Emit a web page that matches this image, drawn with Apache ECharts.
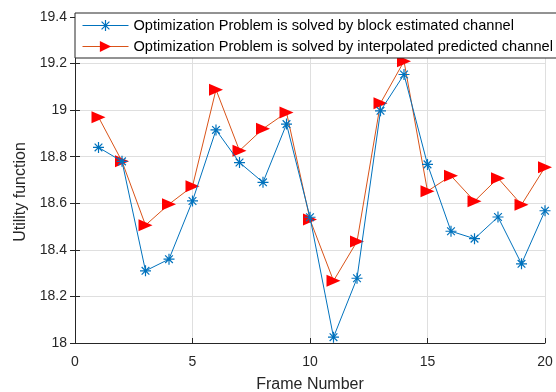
<!DOCTYPE html>
<html><head><meta charset="utf-8">
<script src="https://cdn.jsdelivr.net/npm/echarts@6/dist/echarts.min.js"></script>
<style>html,body{margin:0;padding:0;background:#fff}#c{width:556px;height:392px}</style>
</head><body><div id="c"></div>
<script>
const frames = [1,2,3,4,5,6,7,8,9,10,11,12,13,14,15,16,17,18,19,20];
const blockEstimated = [18.84,18.78,18.31,18.36,18.61,18.915,18.775,18.69,18.94,18.54,18.025,18.278,18.997,19.153,18.767,18.48,18.448,18.541,18.34,18.568];
const interpolatedPredicted = [18.97,18.78,18.506,18.596,18.673,19.088,18.826,18.92,18.99,18.53,18.267,18.436,19.03,19.21,18.652,18.718,18.609,18.708,18.594,18.755];
const seriesNames = ['Optimization Problem is solved by block estimated channel','Optimization Problem is solved by interpolated predicted channel'];
const xTicks = {min:0,max:20,interval:5};
const yTicks = {min:18,max:19.4,interval:0.2};

const asterisk = 'path://M0,-6L0,6M-6,0L6,0M-4.2,-4.2L4.2,4.2M-4.2,4.2L4.2,-4.2';
const txt = '#262626';
const font = 'Liberation Sans, Arial, sans-serif';
const chart = echarts.init(document.getElementById('c'));
const axisCommon = {
  axisLine:{show:true,lineStyle:{color:txt,width:1}},
  axisTick:{show:true,inside:true,length:5,lineStyle:{color:txt}},
  axisLabel:{color:txt,fontSize:14,fontFamily:font},
  splitLine:{show:true,lineStyle:{color:'#dfdfdf',width:1}}
};
chart.setOption({
  animation:false,
  grid:{left:75,right:11,top:17,bottom:49,outerBoundsMode:'none',containLabel:false},
  legend:{
    left:75, top:13, orient:'vertical',
    data:[
      {name:seriesNames[0],itemStyle:{color:'rgba(0,0,0,0)',borderColor:'#0072BD',borderWidth:1.2},lineStyle:{width:1,color:'#0072BD'}},
      {name:seriesNames[1],itemStyle:{color:'#ff0000',borderWidth:0},lineStyle:{width:1,color:'#D95319'}}
    ],
    backgroundColor:'#fff', borderColor:txt, borderWidth:1,
    padding:[5,6,4,7], itemGap:6, itemWidth:46, itemHeight:14,
    textStyle:{color:'#000',fontSize:14.6,fontFamily:font}
  },
  xAxis:[
    Object.assign({type:'value',min:xTicks.min,max:xTicks.max,interval:xTicks.interval,
      name:'Frame Number',nameLocation:'middle',nameGap:34,
      nameTextStyle:{color:txt,fontSize:16,fontFamily:font}},axisCommon,
      {axisLabel:{color:txt,fontSize:14,fontFamily:font,margin:12}}),
    {type:'value',position:'top',min:xTicks.min,max:xTicks.max,interval:xTicks.interval,
      axisLine:{show:true,lineStyle:{color:txt}},axisTick:{show:true,inside:true,length:5,lineStyle:{color:txt}},
      axisLabel:{show:false},splitLine:{show:false}}
  ],
  yAxis:[
    Object.assign({type:'value',min:yTicks.min,max:yTicks.max,interval:yTicks.interval,
      name:'Utility function',nameLocation:'middle',nameGap:42,
      nameTextStyle:{color:txt,fontSize:16,fontFamily:font,padding:[0,24,0,0]}},axisCommon),
    {type:'value',position:'right',min:yTicks.min,max:yTicks.max,interval:yTicks.interval,
      axisLine:{show:true,lineStyle:{color:txt}},axisTick:{show:true,inside:true,length:5,lineStyle:{color:txt}},
      axisLabel:{show:false},splitLine:{show:false}}
  ],
  series:[
    {name:seriesNames[0],type:'line',data:frames.map((f,i)=>[f,blockEstimated[i]]),
      symbol:asterisk,symbolSize:11,
      lineStyle:{color:'#0072BD',width:1},
      itemStyle:{color:'rgba(0,0,0,0)',borderColor:'#0072BD',borderWidth:1.2},z:3},
    {name:seriesNames[1],type:'line',data:frames.map((f,i)=>[f,interpolatedPredicted[i]]),
      symbol:'triangle',symbolRotate:-90,symbolSize:[12,14],
      lineStyle:{color:'#D95319',width:1},
      itemStyle:{color:'#ff0000',borderColor:'#ff0000',borderWidth:0},z:2}
  ]
});
</script></body></html>
